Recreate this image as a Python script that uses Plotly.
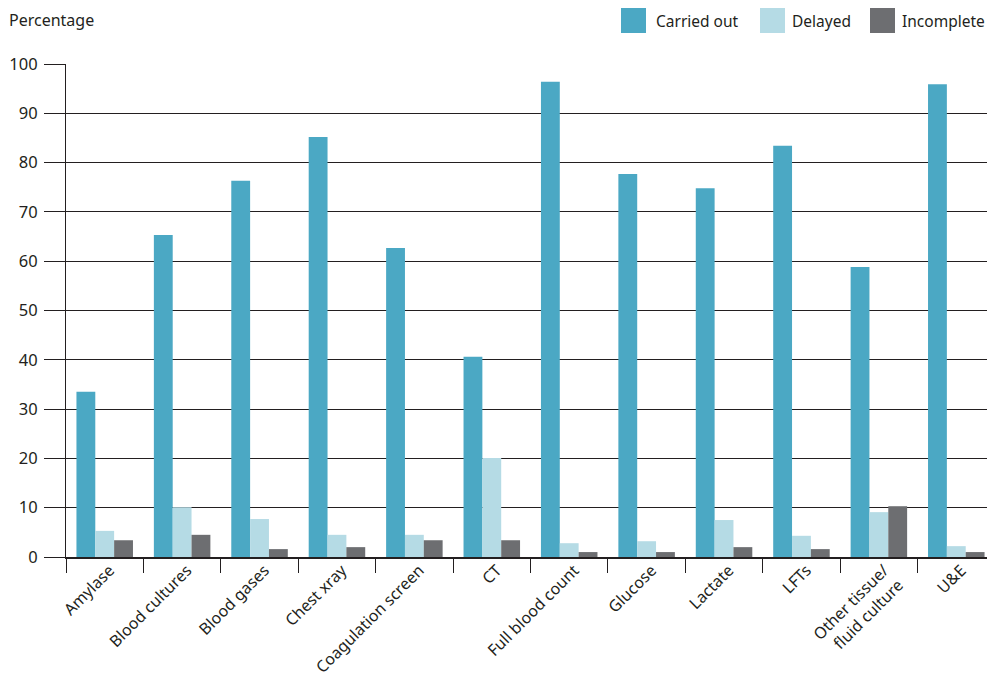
import plotly.graph_objects as go

categories = ["Amylase", "Blood cultures", "Blood gases", "Chest xray", "Coagulation screen", "CT",
              "Full blood count", "Glucose", "Lactate", "LFTs", "Other tissue/<br>fluid culture", "U&E"]
series_names = ["Carried out", "Delayed", "Incomplete"]
carried_out = [33.5, 65.3, 76.3, 85.2, 62.7, 40.6, 96.4, 77.7, 74.8, 83.4, 58.8, 95.9]
delayed = [5.3, 10.1, 7.7, 4.5, 4.5, 20.1, 2.8, 3.2, 7.5, 4.3, 9.1, 2.2]
incomplete = [3.4, 4.5, 1.6, 2.0, 3.4, 3.4, 1.0, 1.0, 2.0, 1.6, 10.3, 1.0]
colors = ["#4ba8c4", "#b5dbe5", "#6d6e71"]
y_ticks = [0, 10, 20, 30, 40, 50, 60, 70, 80, 90, 100]

FONT = "Noto Sans"
TXT = "#231f20"
OFF = 8  # page body margin
W, H = 995 - OFF, 679 - OFF
L, R, T, B = 66 - OFF, 0, 64 - OFF, 122
PW, PH = W - L - R, H - T - B


def px(x):
    return (x - OFF - L) / PW


def py(y):
    return (H - B - (y - OFF)) / PH


fig = go.Figure()
for name, vals, c in zip(series_names, [carried_out, delayed, incomplete], colors):
    fig.add_trace(go.Bar(x=categories, y=vals, name=name, marker=dict(color=c, line=dict(width=0)),
                         showlegend=False))

# custom legend with large square swatches
leg_x = [621, 760, 870]
leg_tx = [654, 790, 900]
shapes = []
annotations = []
for name, c, x0, tx in zip(series_names, colors, leg_x, leg_tx):
    shapes.append(dict(type="rect", xref="paper", yref="paper",
                       x0=px(x0), x1=px(x0 + 25), y0=py(33), y1=py(8),
                       fillcolor=c, line=dict(width=0)))
    annotations.append(dict(text=name, xref="paper", yref="paper",
                            x=px(tx), y=py(20.5),
                            xanchor="left", yanchor="middle", showarrow=False,
                            font=dict(family=FONT, size=15.5, color=TXT)))
annotations.append(dict(text="Percentage", xref="paper", yref="paper",
                        x=px(7), y=py(20), xanchor="left", yanchor="middle",
                        showarrow=False, font=dict(family=FONT, size=16, color=TXT)))

fig.update_layout(
    width=W, height=H,
    margin=dict(l=L, r=R, t=T, b=B),
    paper_bgcolor="white", plot_bgcolor="white",
    barmode="group", bargap=0.27, bargroupgap=0,
    font=dict(family=FONT, size=16, color=TXT),
    shapes=shapes, annotations=annotations,
    xaxis=dict(tickangle=-45, tickson="boundaries", ticks="outside", ticklen=14, tickwidth=1.2,
               tickcolor=TXT, showline=True, linecolor=TXT, linewidth=1.5, automargin=False,
               ticklabelshift=5, ticklabelstandoff=-4,
               showgrid=False, tickfont=dict(family=FONT, size=16, color=TXT)),
    yaxis=dict(range=[0, 100], tickvals=y_ticks, ticks="outside", ticklen=21, tickwidth=1.2,
               tickcolor=TXT, showgrid=True, gridcolor=TXT, gridwidth=1.2, automargin=False,
               ticklabelstandoff=3,
               showline=True, linecolor=TXT, linewidth=1.2, zeroline=False,
               tickfont=dict(family=FONT, size=16.5, color=TXT)),
)
fig.write_html("out.html")
